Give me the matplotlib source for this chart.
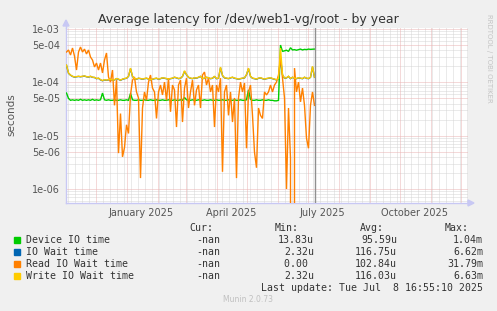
#!/usr/bin/env python3
import numpy as np
import pandas as pd
import matplotlib
matplotlib.use('Agg')
import matplotlib.pyplot as plt
from matplotlib.patches import Rectangle
from matplotlib.ticker import NullLocator
from datetime import datetime, timedelta

# daily-ish averages, one point every 2 days, in microseconds
dates = pd.date_range('2024-11-02', periods=125, freq='2D')

device_io = [
    63, 50, 46, 47, 46, 47, 46, 48, 46, 47,
    46, 47, 46, 48, 46, 47, 46, 47, 63, 47,
    46, 47, 46, 46, 47, 46, 46, 47, 46, 46,
    47, 46, 62, 47, 46, 46, 47, 46, 46, 47,
    46, 46, 47, 46, 46, 47, 46, 46, 47, 46,
    46, 47, 46, 46, 47, 46, 46, 47, 46, 52,
    47, 46, 46, 47, 46, 46, 47, 46, 46, 47,
    46, 46, 47, 46, 46, 47, 46, 46, 47, 46,
    46, 47, 46, 46, 47, 46, 46, 47, 46, 46,
    47, 72, 48, 46, 46, 47, 46, 46, 47, 46,
    46, 47, 46, 46, 45, 45, 46, 500, 380, 390,
    400, 380, 445, 405, 410, 400, 410, 420, 405, 415,
    410, 420, 415, 418, 420,
]

io_wait = [
    208, 148, 136, 129, 125, 127, 129, 127, 129, 131,
    127, 125, 129, 124, 123, 117, 119, 111, 107, 111,
    109, 111, 114, 109, 111, 117, 114, 109, 114, 117,
    119, 129, 180, 129, 117, 114, 119, 117, 114, 117,
    119, 115, 111, 114, 117, 119, 114, 117, 121, 119,
    117, 114, 117, 119, 124, 121, 117, 119, 129, 160,
    139, 124, 119, 117, 121, 119, 124, 129, 117, 119,
    124, 121, 117, 119, 129, 117, 119, 188, 134, 121,
    119, 117, 121, 124, 119, 117, 114, 117, 119, 121,
    139, 180, 129, 119, 117, 114, 119, 121, 117, 114,
    117, 119, 121, 117, 114, 111, 117, 300, 138, 119,
    121, 129, 117, 124, 119, 117, 121, 119, 117, 124,
    119, 117, 124, 195, 124,
]

read_wait = [
    370, 404, 325, 440, 310, 170, 370, 460, 370, 420,
    340, 404, 298, 262, 194, 230, 170, 230, 150, 262,
    355, 126, 101, 170, 37, 110, 4.7, 26, 4.0, 6.0,
    16, 11, 58, 110, 126, 66, 51, 1.6, 33, 66,
    46, 101, 137, 78, 66, 21, 66, 89, 58, 101,
    46, 120, 28, 89, 72, 14.5, 89, 110, 18, 78,
    120, 33, 66, 110, 37, 72, 89, 33, 137, 156,
    89, 120, 66, 89, 14.5, 89, 66, 120, 2.1, 66,
    89, 24, 66, 18, 51, 1.6, 51, 101, 66, 97,
    5.8, 66, 89, 24, 4.9, 2.5, 33, 24, 21, 66,
    58, 66, 89, 66, 89, 101, 137, 286, 120, 51,
    1.0, 33, 3.8, 0, 185, 66, 101, 43, 78, 37,
    9, 5.8, 37, 66, 37,
]

write_wait = [
    211, 150, 137, 130, 126, 128, 130, 128, 130, 132,
    128, 126, 130, 125, 124, 118, 120, 112, 108, 112,
    110, 112, 115, 110, 112, 118, 115, 110, 115, 118,
    120, 130, 185, 130, 118, 115, 120, 118, 115, 118,
    120, 116, 112, 115, 118, 120, 115, 118, 122, 120,
    118, 115, 118, 120, 125, 122, 118, 120, 130, 165,
    140, 125, 120, 118, 122, 120, 125, 130, 118, 120,
    125, 122, 118, 120, 130, 118, 120, 193, 135, 122,
    120, 118, 122, 125, 120, 118, 115, 118, 120, 122,
    140, 185, 130, 120, 118, 115, 120, 122, 118, 115,
    118, 120, 122, 118, 115, 112, 118, 440, 140, 120,
    122, 130, 118, 125, 120, 118, 122, 120, 118, 125,
    120, 118, 125, 200, 125,
]

series = [
    ('Device IO time', device_io, '#00cc00'),
    ('IO Wait time', io_wait, '#0066b3'),
    ('Read IO Wait time', read_wait, '#ff8000'),
    ('Write IO Wait time', write_wait, '#ffcc00'),
]
stats = [
    ('-nan', '13.83u', '95.59u', '1.04m'),
    ('-nan', '2.32u', '116.75u', '6.62m'),
    ('-nan', '0.00 ', '102.84u', '31.79m'),
    ('-nan', '2.32u', '116.03u', '6.63m'),
]

ytick_vals = [1e-3, 5e-4, 1e-4, 5e-5, 1e-5, 5e-6, 1e-6]
ytick_labels = ['1e-03', '5e-04', '1e-04', '5e-05', '1e-05', '5e-06', '1e-06']
xtick_dates = [datetime(2025, 1, 16), datetime(2025, 4, 16),
               datetime(2025, 7, 16), datetime(2025, 10, 16)]
xtick_labels = ['January 2025', 'April 2025', 'July 2025', 'October 2025']

W, H = 497, 311
BG = '#f0f0f0'
TXT = '#555555'
RED = '#ebb4b4'
GREY = '#d6d6d6'
AXC = '#c8c8f4'
dot = (0, (1, 1))

fig = plt.figure(figsize=(W/100, H/100), dpi=100, facecolor=BG)
ax = fig.add_axes([66/W, 1-203/H, (468-66)/W, (203-28)/H])
ax.set_facecolor('white')
ax.set_yscale('log')
ax.set_ylim(5.46e-7, 1.044e-3)
x0 = datetime(2024, 11, 1, 12)
x1 = x0 + timedelta(days=402)
ax.set_xlim(x0, x1)

# grid, drawn by hand like rrdtool
for dec in range(-7, -2):
    for m in range(1, 10):
        v = m * 10.0**dec
        if not (5.46e-7 < v < 1.044e-3):
            continue
        major = m in (1, 5)
        ax.axhline(v, color=RED if major else GREY, lw=0.72, ls=dot,
                   zorder=1 if major else 0.5)
d = datetime(2024, 11, 3)
while d < x1:
    if d.day > 1:
        ax.axvline(d, color=GREY, lw=0.72, ls=dot, zorder=0.5)
    d += timedelta(days=7)
for y in (2024, 2025):
    for mo in range(1, 13):
        d = datetime(y, mo, 1)
        if x0 < d < x1:
            ax.axvline(d, color=RED, lw=0.72, ls=dot, zorder=1)

for label, vals, col in series:
    ax.plot(dates, np.array(vals) * 1e-6, color=col, lw=1.0, zorder=3,
            solid_joinstyle='miter')

ax.axvline(datetime(2025, 7, 8, 16, 55), color='#909090', lw=1.0, zorder=4)

ax.set_yticks(ytick_vals)
ax.set_yticklabels(ytick_labels)
ax.yaxis.set_minor_locator(NullLocator())
ax.set_xticks(xtick_dates)
ax.set_xticklabels(xtick_labels)
ax.xaxis.set_minor_locator(NullLocator())
ax.tick_params(axis='both', length=0, labelsize=7, labelcolor=TXT)
ax.tick_params(axis='y', pad=4.3)
ax.tick_params(axis='x', pad=3.5)

for s in ('top', 'right'):
    ax.spines[s].set_visible(False)
for s in ('left', 'bottom'):
    ax.spines[s].set_color(AXC)
    ax.spines[s].set_linewidth(1.0)

# axis arrows
ax.plot([0, 0], [1, 1.025], transform=ax.transAxes, color=AXC, lw=1.0, clip_on=False)
ax.plot([1, 1.008], [0, 0], transform=ax.transAxes, color=AXC, lw=1.0, clip_on=False)
fig.patches.append(plt.Polygon([[63/W, 1-26/H], [69/W, 1-26/H], [66/W, 1-20/H]],
                               closed=True, color=AXC, transform=fig.transFigure))
fig.patches.append(plt.Polygon([[468/W, 1-200/H], [468/W, 1-206/H], [474/W, 1-203/H]],
                               closed=True, color=AXC, transform=fig.transFigure))

fig.text(248/W, 1-19/H, 'Average latency for /dev/web1-vg/root - by year',
         ha='center', va='center', fontsize=9, color='#333333')
fig.text(11/W, 1-115/H, 'seconds', rotation=90, ha='center', va='center',
         fontsize=7.5, color=TXT)
fig.text(489/W, 1-58/H, 'RRDTOOL / TOBI OETIKER', rotation=270, ha='center',
         va='center', fontsize=5, color='#c4c4c4')

mono = dict(family='DejaVu Sans Mono', fontsize=7.15, color='#333333', va='center')
hy = 228
for name, xr in (('Cur:', 213), ('Min:', 299), ('Avg:', 384), ('Max:', 469)):
    fig.text(xr/W, 1-hy/H, name, ha='right', **mono)
for i, ((label, vals, col), st) in enumerate(zip(series, stats)):
    y = 240 + i*12
    fig.patches.append(Rectangle((14/W, 1-(y+3)/H), 6/W, 6/H, color=col,
                                 transform=fig.transFigure))
    fig.text(26/W, 1-y/H, label, ha='left', **mono)
    for txt, xr in zip(st, (220, 314, 397, 483)):
        fig.text(xr/W, 1-y/H, txt, ha='right', **mono)
fig.text(483/W, 1-288/H, 'Last update: Tue Jul  8 16:55:10 2025', ha='right', **mono)
fig.text(248/W, 1-300/H, 'Munin 2.0.73', ha='center', va='center',
         fontsize=5.5, color='#c0c0c0')

fig.savefig('out.png', dpi=100, facecolor=BG)
